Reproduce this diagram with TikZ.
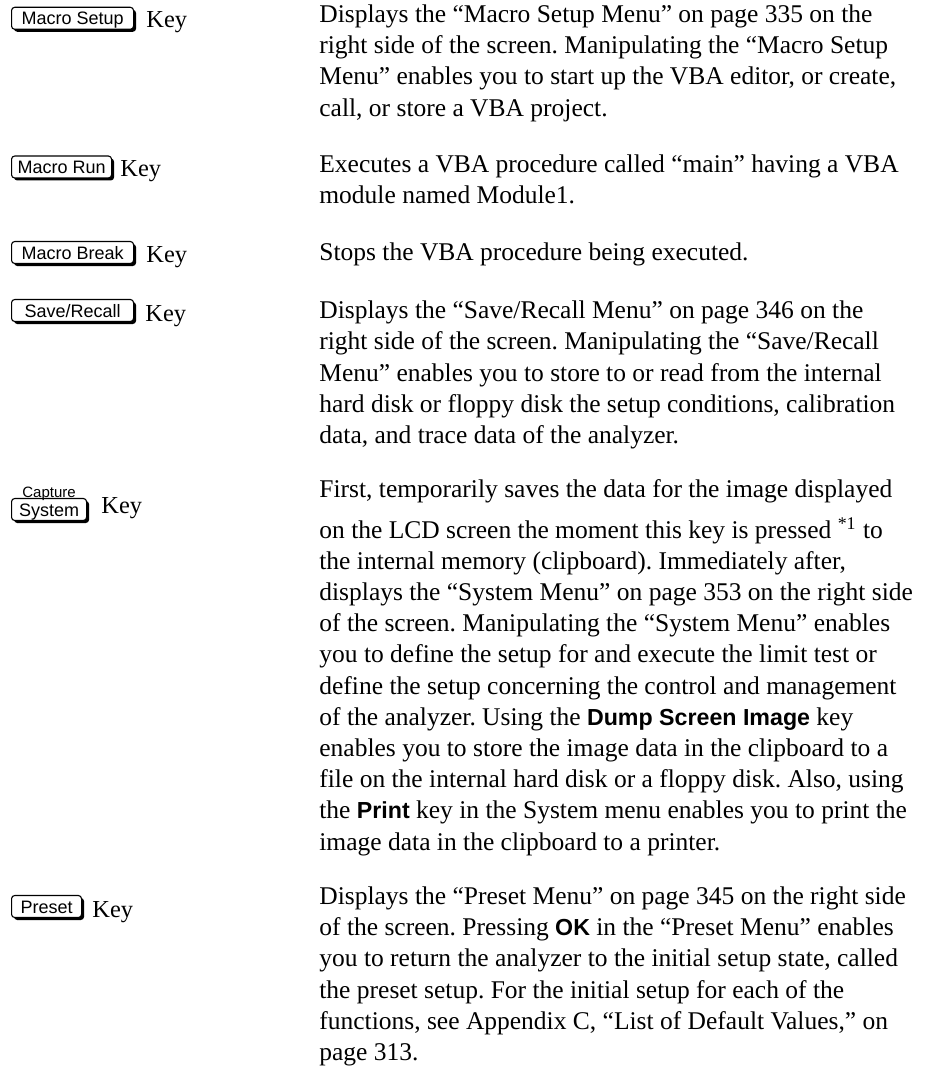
\documentclass[tikz,border=0pt]{standalone}
\usepackage{fontspec}
\usetikzlibrary{shadows}
\setmainfont{Liberation Serif}
\newfontfamily\keyfont{Liberation Sans}
\newfontfamily\boldsans{Liberation Sans Bold}
\newcommand{\bkey}[1]{{\boldsans\fontsize{11.6}{15.6}\selectfont #1}}
\newcommand{\ptext}[1]{\parbox[t]{320pt}{\raggedright\fontsize{12.75}{15.6}\selectfont\frenchspacing #1}}
\begin{document}
\begin{tikzpicture}[x=0.5pt,y=-0.5pt,
  keybtn/.style={draw=black, line width=0.55pt, rounded corners=1.6pt, fill=white,
    drop shadow={shadow xshift=1.25pt, shadow yshift=-1.25pt, fill=black, opacity=1},
    font=\keyfont\fontsize{9}{10}\selectfont, inner xsep=0pt, inner ysep=0pt,
    minimum height=11pt, minimum width=#1, anchor=west, text height=6.5pt, text depth=0pt},
  keyword/.style={font=\fontsize{12.2}{15.6}\selectfont, anchor=base west, inner sep=0pt},
  para/.style={anchor=base west, inner sep=0pt},
  captext/.style={font=\keyfont\fontsize{7.5}{8}\selectfont, inner sep=0pt, anchor=base}
]
\useasboundingbox (0,0) rectangle (949,1075);

% Row 1
\node[keybtn=61pt] (k1) at (11,18.3) {Macro Setup};
\node[keyword] (w1) at (146,28) {Key};
\node[para] (p1) at (319,22.5) {\ptext{Displays the “Macro Setup Menu” on page 335 on the\\
right side of the screen. Manipulating the “Macro Setup\\
Menu” enables you to start up the VBA editor, or create,\\
call, or store a VBA project.}};

% Row 2
\node[keybtn=50pt] (k2) at (11,167) {Macro Run};
\node[keyword] (w2) at (120,177) {Key};
\node[para] (p2) at (319,172.7) {\ptext{Executes a VBA procedure called “main” having a VBA\\
module named Module1.}};

% Row 3
\node[keybtn=61pt] (k3) at (11,252.5) {Macro Break};
\node[keyword] (w3) at (146,263) {Key};
\node[para] (p3) at (319,260.2) {\ptext{Stops the VBA procedure being executed.}};

% Row 4
\node[keybtn=61pt] (k4) at (11,310.5) {Save/Recall};
\node[keyword] (w4) at (145,321) {Key};
\node[para] (p4) at (319,318.7) {\ptext{Displays the “Save/Recall Menu” on page 346 on the\\
right side of the screen. Manipulating the “Save/Recall\\
Menu” enables you to store to or read from the internal\\
hard disk or floppy disk the setup conditions, calibration\\
data, and trace data of the analyzer.}};

% Row 5
\node[keybtn=37.5pt] (k5) at (11,509.5) {System};
\node[captext] (c5) at ([yshift=-1pt]k5.north |- 0,495.5) {Capture};
\node[keyword] (w5) at (101,513) {Key};
\node[para] (p5) at (319,497.9) {\ptext{First, temporarily saves the data for the image displayed\\[4.5pt]
on the LCD screen the moment this key is pressed \textsuperscript{*1} to\\
the internal memory (clipboard). Immediately after,\\
displays the “System Menu” on page 353 on the right side\\
of the screen. Manipulating the “System Menu” enables\\
you to define the setup for and execute the limit test or\\
define the setup concerning the control and management\\
of the analyzer. Using the \bkey{Dump Screen Image} key\\
enables you to store the image data in the clipboard to a\\
file on the internal hard disk or a floppy disk. Also, using\\
the \bkey{Print} key in the System menu enables you to print the\\
image data in the clipboard to a printer.}};

% Row 6
\node[keybtn=35pt] (k6) at (11,906.5) {Preset};
\node[keyword] (w6) at (92,917) {Key};
\node[para] (p6) at (319,904.4) {\ptext{Displays the “Preset Menu” on page 345 on the right side\\
of the screen. Pressing \bkey{OK} in the “Preset Menu” enables\\
you to return the analyzer to the initial setup state, called\\
the preset setup. For the initial setup for each of the\\
functions, see Appendix C, “List of Default Values,” on\\
page 313.}};
\end{tikzpicture}
\end{document}
